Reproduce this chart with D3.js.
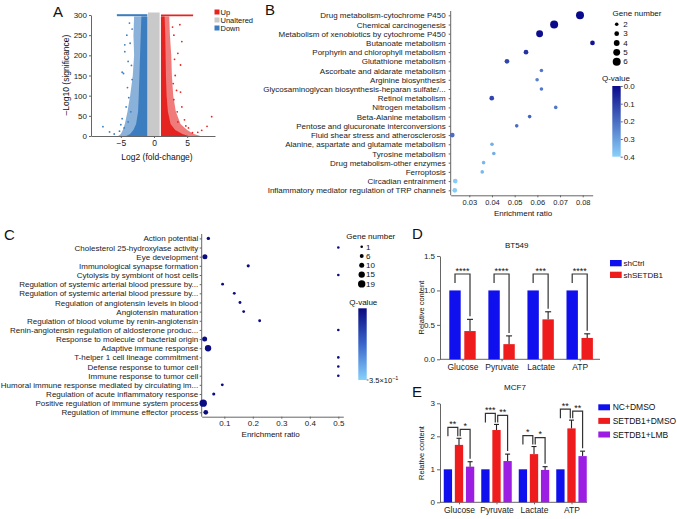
<!DOCTYPE html>
<html>
<head>
<meta charset="utf-8">
<script src="https://cdnjs.cloudflare.com/ajax/libs/d3/7.8.5/d3.min.js"></script>
<style>
  body { margin: 0; background: #fff; }
  svg { font-family: "Liberation Sans", Arial, Helvetica, sans-serif; }
</style>
</head>
<body>
<svg width="677" height="519"></svg>
<script>
// ---------- A: volcano ----------
const volcanoLevels  = [0, 5, 15, 30, 60, 100, 150, 200, 250, 296];
const downCoreEdge   = [-4.2, -3.6, -3.1, -2.7, -2.4, -2.3, -2.2, -2.1, -2.0, -1.9];
const downOuterEdge  = [-5.4, -5.0, -4.7, -4.4, -4.0, -3.6, -3.2, -3.0, -3.1, -3.0];
const upCoreEdge     = [5.2, 4.3, 3.2, 2.5, 2.1, 1.9, 1.8, 1.75, 1.7, 1.6];
const upOuterEdge    = [7.0, 6.0, 5.0, 4.0, 3.3, 2.9, 2.7, 2.6, 2.4, 2.3];
const grayRange      = [-0.9, 0.85];
const downCapRange   = [-5.6, -1.0];
const upCapRange     = [1.05, 5.9];
const downOutliers   = [[-7.7, 23], [-6.7, 10], [-6.0, 5], [-4.6, 155], [-4.8, 158], [-4.4, 209],
                        [-4.4, 226], [-4.2, 72], [-4.8, 43], [-5.0, 28], [-4.1, 250], [-3.9, 185],
                        [-4.0, 120], [-3.7, 280], [-5.2, 12], [-3.5, 60], [-3.8, 95], [-3.3, 140],
                        [-3.4, 175], [-3.6, 230], [-3.3, 265], [-4.5, 20], [-3.9, 35]];
const upOutliers     = [[3.9, 276], [4.2, 234], [4.0, 176], [3.4, 113], [4.0, 109], [4.2, 72],
                        [8.7, 48], [8.0, 24], [7.2, 14], [6.6, 9], [3.2, 150], [3.6, 205],
                        [4.6, 40], [5.2, 20], [3.0, 250], [3.0, 90], [3.5, 60], [2.9, 130],
                        [3.1, 190], [2.8, 270], [3.6, 35], [5.8, 8], [4.8, 25]];
const volcanoXTicks  = [-5, 0, 5];
const volcanoYTicks  = [0, 50, 100, 150, 200, 250, 300];
const volcanoGroups  = ["Up", "Unaltered", "Down"];

// ---------- B: KEGG ----------
const keggTerms = ["Drug metabolism-cytochrome P450", "Chemical carcinogenesis",
  "Metabolism of xenobiotics by cytochrome P450", "Butanoate metabolism",
  "Porphyrin and chlorophyll metabolism", "Glutathione metabolism",
  "Ascorbate and aldarate metabolism", "Arginine biosynthesis",
  "Glycosaminoglycan biosynthesis-heparan sulfate/...", "Retinol metabolism",
  "Nitrogen metabolism", "Beta-Alanine metabolism", "Pentose and glucuronate interconversions",
  "Fluid shear stress and atherosclerosis", "Alanine, aspartate and glutamate metabolism",
  "Tyrosine metabolism", "Drug metabolism-other enzymes", "Ferroptosis",
  "Circadian entrainment", "Inflammatory mediator regulation of TRP channels"];
const keggRatio = [0.0788, 0.0674, 0.0610, 0.0843, 0.0550, 0.0466, 0.0618, 0.0599, 0.0618, 0.0399,
                   0.0681, 0.0566, 0.0509, 0.0225, 0.0400, 0.0408, 0.0363, 0.0357, 0.0238, 0.0236];
const keggGenes = [6, 6, 5, 3, 3, 3, 2, 2, 2, 3, 2, 2, 2, 3, 2, 2, 2, 2, 3, 3];
const keggQ     = [0.0, 0.0, 0.01, 0.02, 0.08, 0.12, 0.22, 0.24, 0.22, 0.12,
                   0.22, 0.18, 0.2, 0.2, 0.33, 0.33, 0.35, 0.35, 0.39, 0.39];
const keggTicks = [0.03, 0.04, 0.05, 0.06, 0.07, 0.08];
const keggGeneLegend = [2, 3, 4, 5, 6];
const keggQTicks = [0, 0.1, 0.2, 0.3, 0.4];

// ---------- C: GO ----------
const goTerms = ["Action potential", "Cholesterol 25-hydroxylase activity", "Eye development",
  "Immunological synapse formation", "Cytolysis by symbiont of host cells",
  "Regulation of systemic arterial blood pressure by...",
  "Regulation of systemic arterial blood pressure by...",
  "Regulation of angiotensin levels in blood", "Angiotensin maturation",
  "Regulation of blood volume by renin-angiotensin",
  "Renin-angiotensin regulation of aldosterone produc...",
  "Response to molecule of bacterial origin", "Adaptive immune response",
  "T-helper 1 cell lineage commitment", "Defense response to tumor cell",
  "Immune response to tumor cell", "Humoral immune response mediated by circulating im...",
  "Regulation of acute inflammatory response", "Positive regulation of immune system process",
  "Regulation of immune effector process"];
const goRatio = [0.044, 0.5, 0.032, 0.184, 0.5, 0.094, 0.135, 0.155, 0.168, 0.224,
                 0.5, 0.031, 0.043, 0.5, 0.5, 0.5, 0.093, 0.063, 0.026, 0.035];
const goGenes = [4, 1, 10, 3, 1, 2, 2, 2, 2, 2, 1, 10, 15, 1, 1, 1, 2, 3, 19, 9];
const goTicks = [0.1, 0.2, 0.3, 0.4, 0.5];
const goGeneLegend = [1, 6, 10, 15, 19];

// ---------- D: BT549 ----------
const metabolites   = ["Glucose", "Pyruvate", "Lactate", "ATP"];
const dSeries       = ["shCtrl", "shSETDB1"];
const shCtrlMean    = [1, 1, 1, 1];
const shSetdb1Mean  = [0.41, 0.22, 0.58, 0.31];
const shSetdb1Sd    = [0.17, 0.12, 0.11, 0.06];
const dStars        = ["****", "****", "***", "****"];
const dTicks        = [0, 0.5, 1.0, 1.5];

// ---------- E: MCF7 ----------
const eSeries       = ["NC+DMSO", "SETDB1+DMSO", "SETDB1+LMB"];
const ncMean        = [1, 1, 1, 1];
const setdb1Mean    = [1.74, 2.19, 1.46, 2.24];
const setdb1Sd      = [0.20, 0.17, 0.23, 0.25];
const lmbMean       = [1.08, 1.25, 0.98, 1.40];
const lmbSd         = [0.15, 0.21, 0.10, 0.15];
const eStarsLeft    = ["**", "***", "*", "**"];
const eStarsRight   = ["*", "**", "*", "**"];
const eTicks        = [0, 1, 2, 3];

const svg = d3.select("svg");
const axisColor = "#666";
const red = "#ee1c1c", blue = "#1010ee", purple = "#9b1ee2";

function styleAxis(g, size) {
  g.selectAll("path, line").attr("stroke", axisColor);
  g.selectAll("text").attr("fill", "#222").attr("font-size", size || 8);
}

function label(x, y, txt, size, anchor) {
  return svg.append("text").attr("x", x).attr("y", y)
    .attr("font-size", size).attr("text-anchor", anchor || "start")
    .attr("fill", "#111").text(txt);
}

// panel letters
label(53, 17, "A", 15);
label(265, 15, "B", 15);
label(4, 240, "C", 15);
label(412, 239, "D", 15);
label(412, 397, "E", 15);

// ================= A =================
const xA = d3.scaleLinear().domain([-9.5, 9.2]).range([91, 215]);
const yA = d3.scaleLinear().domain([0, 300]).range([136, 15]);
const gA = svg.append("g");
const volcanoColor = d3.scaleOrdinal().domain(volcanoGroups).range(["#e52421", "#c9c9c9", "#3b7dbf"]);

const bandArea = d3.area()
  .y(d => yA(d.s))
  .x0(d => xA(d.a))
  .x1(d => xA(d.b));

function bandRows(inner, edges) {
  return volcanoLevels.map((s, i) => ({s: s, a: inner, b: edges[i]}));
}

gA.append("path")
  .attr("d", bandArea([{s: 0, a: grayRange[0], b: grayRange[1]}, {s: 306, a: grayRange[0], b: grayRange[1]}]))
  .attr("fill", volcanoColor("Unaltered"));

gA.append("path").attr("d", bandArea(bandRows(-1.0, downOuterEdge)))
  .attr("fill", volcanoColor("Down")).attr("opacity", 0.6);
gA.append("path").attr("d", bandArea(bandRows(-1.0, downCoreEdge)))
  .attr("fill", volcanoColor("Down"));
gA.append("path").attr("d", bandArea(bandRows(1.05, upOuterEdge)))
  .attr("fill", volcanoColor("Up")).attr("opacity", 0.6);
gA.append("path").attr("d", bandArea(bandRows(1.05, upCoreEdge)))
  .attr("fill", volcanoColor("Up"));

// capped points at the top of the plot
gA.append("path")
  .attr("d", bandArea([{s: 297, a: downCapRange[0], b: downCapRange[1]}, {s: 302, a: downCapRange[0], b: downCapRange[1]}]))
  .attr("fill", volcanoColor("Down"));
gA.append("path")
  .attr("d", bandArea([{s: 297, a: upCapRange[0], b: upCapRange[1]}, {s: 301, a: upCapRange[0], b: upCapRange[1]}]))
  .attr("fill", volcanoColor("Up"));

gA.selectAll(".dn").data(downOutliers).enter().append("circle")
  .attr("cx", d => xA(d[0])).attr("cy", d => yA(d[1])).attr("r", 0.9)
  .attr("fill", volcanoColor("Down"));
gA.selectAll(".up").data(upOutliers).enter().append("circle")
  .attr("cx", d => xA(d[0])).attr("cy", d => yA(d[1])).attr("r", 0.9)
  .attr("fill", volcanoColor("Up"));

gA.append("g").attr("transform", "translate(0,136)")
  .call(d3.axisBottom(xA).tickValues(volcanoXTicks).tickSize(2).tickSizeOuter(0).tickPadding(2))
  .call(g => styleAxis(g, 8.5));
gA.append("g").attr("transform", "translate(91,0)")
  .call(d3.axisLeft(yA).tickValues(volcanoYTicks).tickSize(2).tickSizeOuter(0).tickPadding(2))
  .call(g => styleAxis(g, 8));

label(157, 160, "Log2 (fold-change)", 8.5, "middle");
svg.append("text").attr("transform", "translate(69,75) rotate(-90)")
  .attr("text-anchor", "middle").attr("font-size", 8.5).attr("fill", "#111")
  .text("\u2013Log10 (significance)");

volcanoGroups.forEach((k, i) => {
  svg.append("rect").attr("x", 214.5).attr("y", 9.5 + i * 8).attr("width", 5).attr("height", 5)
    .attr("fill", volcanoColor(k));
  label(220.5, 15 + i * 8, k, 7.5);
});

// ================= B =================
const xB = d3.scaleLinear().domain([0.0218, 0.0844]).range([450.7, 592.7]);
const yB = d3.scalePoint().domain(d3.range(keggTerms.length)).range([15.3, 190.3]);
const rB = d3.scaleLinear().domain([2, 6]).range([1.8, 4]);
const qB = d3.scaleLinear().domain([0, 0.4]).range(["#0a0a8c", "#8ad0fa"]);

svg.append("g").attr("transform", "translate(450.7,0)")
  .call(d3.axisLeft(yB).tickSize(2).tickPadding(3).tickFormat(i => keggTerms[i]))
  .call(g => g.select(".domain").remove())
  .call(g => styleAxis(g, 8));
svg.append("line").attr("x1", 450.7).attr("x2", 450.7).attr("y1", 11).attr("y2", 195.3).attr("stroke", axisColor);
svg.append("g").attr("transform", "translate(0,195.3)")
  .call(d3.axisBottom(xB).tickValues(keggTicks).tickFormat(d3.format(".2f")).tickSize(2).tickSizeOuter(0).tickPadding(2))
  .call(g => styleAxis(g, 7.5));
label(523, 216, "Enrichment ratio", 8, "middle");

svg.selectAll(".kegg").data(keggTerms).enter().append("circle")
  .attr("cx", (d, i) => xB(keggRatio[i]))
  .attr("cy", (d, i) => yB(i))
  .attr("r", (d, i) => rB(keggGenes[i]))
  .attr("fill", (d, i) => qB(keggQ[i]));

label(637, 16, "Gene number", 8, "middle");
keggGeneLegend.forEach((n, i) => {
  svg.append("circle").attr("cx", 616.7).attr("cy", 24.3 + i * 9.35).attr("r", rB(n)).attr("fill", "#000");
  label(623.3, 27 + i * 9.35, n, 8);
});

label(616, 80.5, "Q-value", 8, "middle");
const defs = svg.append("defs");
const gradB = defs.append("linearGradient").attr("id", "qgradB").attr("x1", 0).attr("x2", 0).attr("y1", 0).attr("y2", 1);
gradB.append("stop").attr("offset", "0%").attr("stop-color", qB(0));
gradB.append("stop").attr("offset", "50%").attr("stop-color", qB(0.2));
gradB.append("stop").attr("offset", "100%").attr("stop-color", qB(0.4));
svg.append("rect").attr("x", 612.3).attr("y", 86).attr("width", 8.4).attr("height", 70.7).attr("fill", "url(#qgradB)");
const qLegB = d3.scaleLinear().domain([0, 0.4]).range([86, 156.7]);
svg.append("g").attr("transform", "translate(620.7,0)")
  .call(d3.axisRight(qLegB).tickValues(keggQTicks).tickFormat(d3.format(".1f")).tickSize(2).tickPadding(1))
  .call(g => g.select(".domain").remove())
  .call(g => styleAxis(g, 8));

// ================= C =================
const xC = d3.scaleLinear().domain([0.0207, 0.5175]).range([201.7, 343.3]);
const yC = d3.scalePoint().domain(d3.range(goTerms.length)).range([238.4, 412.3]);
const rC = d3.scaleLinear().domain([1, 19]).range([1.3, 3.7]);
const goColor = "#0b0b82";

svg.append("g").attr("transform", "translate(201.7,0)")
  .call(d3.axisLeft(yC).tickSize(2).tickPadding(1.5).tickFormat(i => goTerms[i]))
  .call(g => g.select(".domain").remove())
  .call(g => styleAxis(g, 8));
svg.append("line").attr("x1", 201.7).attr("x2", 201.7).attr("y1", 234).attr("y2", 416.7).attr("stroke", axisColor);
svg.append("g").attr("transform", "translate(0,416.7)")
  .call(d3.axisBottom(xC).tickValues(goTicks).tickFormat(d3.format(".1f")).tickSize(2).tickSizeOuter(0).tickPadding(2))
  .call(g => styleAxis(g, 8));
label(270.7, 437, "Enrichment ratio", 8, "middle");

svg.selectAll(".go").data(goTerms).enter().append("circle")
  .attr("cx", (d, i) => xC(goRatio[i]))
  .attr("cy", (d, i) => yC(i))
  .attr("r", (d, i) => rC(goGenes[i]))
  .attr("fill", goColor);

label(370.8, 238.5, "Gene number", 8, "middle");
goGeneLegend.forEach((n, i) => {
  svg.append("circle").attr("cx", 361.7).attr("cy", 246.7 + i * 9.3).attr("r", rC(n)).attr("fill", "#000");
  label(366, 249.5 + i * 9.3, n, 8);
});
label(363.3, 304.5, "Q-value", 8, "middle");
const gradC = defs.append("linearGradient").attr("id", "qgradC").attr("x1", 0).attr("x2", 0).attr("y1", 0).attr("y2", 1);
gradC.append("stop").attr("offset", "0%").attr("stop-color", "#0a0a7e");
gradC.append("stop").attr("offset", "50%").attr("stop-color", "#3a66cc");
gradC.append("stop").attr("offset", "100%").attr("stop-color", "#86d2fb");
svg.append("rect").attr("x", 358.3).attr("y", 308.3).attr("width", 8.4).attr("height", 71.7).attr("fill", "url(#qgradC)");
svg.append("line").attr("x1", 366.7).attr("x2", 368.5).attr("y1", 380).attr("y2", 380).attr("stroke", axisColor);
const qLab = label(369, 382.5, "3.5\u00d710", 7.5);
qLab.append("tspan").attr("dy", -3).attr("font-size", 5.5).text("\u22121");

// ================= bar helpers =================
function drawErr(g, x, yTop, yVal, cap) {
  g.append("line").attr("x1", x).attr("x2", x).attr("y1", yVal).attr("y2", yTop).attr("stroke", "#222").attr("stroke-width", 1.1);
  g.append("line").attr("x1", x - cap).attr("x2", x + cap).attr("y1", yTop).attr("y2", yTop).attr("stroke", "#222").attr("stroke-width", 1.1);
}

function bracket(g, x1, x2, top, b1, b2, stars) {
  g.append("path")
    .attr("d", `M${x1},${b1}V${top}H${x2}V${b2}`)
    .attr("fill", "none").attr("stroke", "#333").attr("stroke-width", 1.2);
  g.append("text").attr("x", (x1 + x2) / 2).attr("y", top - 0.5)
    .attr("text-anchor", "middle").attr("font-size", 9).attr("fill", "#111").text(stars);
}

// ================= D =================
const yD = d3.scaleLinear().domain([0, 1.5]).range([359.3, 256]);
const xD = d3.scalePoint().domain(metabolites).range([462.5, 579.7]);
const x1D = d3.scaleBand().domain(dSeries).range([-13.2, 13.2]).paddingInner(0.24);
const gD = svg.append("g");
const dColor = d3.scaleOrdinal().domain(dSeries).range([blue, red]);

gD.append("g").attr("transform", "translate(440,0)")
  .call(d3.axisLeft(yD).tickValues(dTicks).tickFormat(d3.format(".1f")).tickSize(3).tickSizeOuter(0).tickPadding(2))
  .call(g => styleAxis(g, 8));
gD.append("line").attr("x1", 440).attr("x2", 600).attr("y1", 359.3).attr("y2", 359.3).attr("stroke", axisColor);
gD.append("g").attr("transform", "translate(0,359.3)")
  .call(d3.axisBottom(xD).tickSize(2).tickPadding(3))
  .call(g => g.select(".domain").remove())
  .call(g => styleAxis(g, 8.5));

metabolites.forEach((m, i) => {
  const c = xD(m);
  const means = [shCtrlMean[i], shSetdb1Mean[i]];
  dSeries.forEach((s, j) => {
    gD.append("rect").attr("x", c + x1D(s)).attr("width", x1D.bandwidth())
      .attr("y", yD(means[j])).attr("height", yD(0) - yD(means[j]))
      .attr("fill", dColor(s));
  });
  const xr = c + x1D("shSETDB1") + x1D.bandwidth() / 2;
  const xl = c + x1D("shCtrl") + x1D.bandwidth() / 2;
  drawErr(gD, xr, yD(shSetdb1Mean[i] + shSetdb1Sd[i]), yD(shSetdb1Mean[i]), 3);
  bracket(gD, xl, xr, 274, 283, yD(shSetdb1Mean[i] + shSetdb1Sd[i]) - 3, dStars[i]);
});

label(516.7, 248, "BT549", 8, "middle");
svg.append("text").attr("transform", "translate(424,307.6) rotate(-90)")
  .attr("text-anchor", "middle").attr("font-size", 7.5).attr("fill", "#111").text("Relative content");
dSeries.forEach((s, i) => {
  svg.append("rect").attr("x", 610).attr("y", 260 + i * 11.7).attr("width", 11.7).attr("height", 6.3).attr("fill", dColor(s));
  label(623.5, 266 + i * 11.7, s, 8);
});

// ================= E =================
const yE = d3.scaleLinear().domain([0, 3]).range([502.3, 403.3]);
const xE = d3.scalePoint().domain(metabolites).range([459, 571.5]);
const x1E = d3.scaleBand().domain(eSeries).range([-15.25, 15.25]).paddingInner(0.25);
const eColor = d3.scaleOrdinal().domain(eSeries).range([blue, red, purple]);
const gE = svg.append("g");

gE.append("g").attr("transform", "translate(440,0)")
  .call(d3.axisLeft(yE).tickValues(eTicks).tickFormat(d3.format("d")).tickSize(3).tickSizeOuter(0).tickPadding(2))
  .call(g => styleAxis(g, 8));
gE.append("line").attr("x1", 440).attr("x2", 587).attr("y1", 502.3).attr("y2", 502.3).attr("stroke", axisColor);
gE.append("g").attr("transform", "translate(0,502.3)")
  .call(d3.axisBottom(xE).tickSize(2).tickPadding(3))
  .call(g => g.select(".domain").remove())
  .call(g => styleAxis(g, 8.5));

metabolites.forEach((m, i) => {
  const c = xE(m);
  const means = [ncMean[i], setdb1Mean[i], lmbMean[i]];
  eSeries.forEach((s, j) => {
    gE.append("rect").attr("x", c + x1E(s)).attr("width", x1E.bandwidth())
      .attr("y", yE(means[j])).attr("height", yE(0) - yE(means[j]))
      .attr("fill", eColor(s));
  });
  const xb = c + x1E(eSeries[0]) + x1E.bandwidth() / 2;
  const xr = c + x1E(eSeries[1]) + x1E.bandwidth() / 2;
  const xp = c + x1E(eSeries[2]) + x1E.bandwidth() / 2;
  const redTop = yE(setdb1Mean[i] + setdb1Sd[i]);
  const lmbTop = yE(lmbMean[i] + lmbSd[i]);
  drawErr(gE, xr, redTop, yE(setdb1Mean[i]), 2.5);
  drawErr(gE, xp, lmbTop, yE(lmbMean[i]), 2.5);
  const top = redTop - 11;
  bracket(gE, xb, xr - 1.2, top, top + 9, redTop - 2, eStarsLeft[i]);
  bracket(gE, xr + 1.2, xp, top + 2, redTop - 2, lmbTop - 3, eStarsRight[i]);
});

label(515, 389.5, "MCF7", 8, "middle");
svg.append("text").attr("transform", "translate(424,453) rotate(-90)")
  .attr("text-anchor", "middle").attr("font-size", 7.5).attr("fill", "#111").text("Relative content");
eSeries.forEach((s, i) => {
  svg.append("rect").attr("x", 598.3).attr("y", 404.3 + i * 13.6).attr("width", 11.7).attr("height", 6).attr("fill", eColor(s));
  label(612.7, 410.3 + i * 13.6, s, 8.5);
});
</script>
</body>
</html>
